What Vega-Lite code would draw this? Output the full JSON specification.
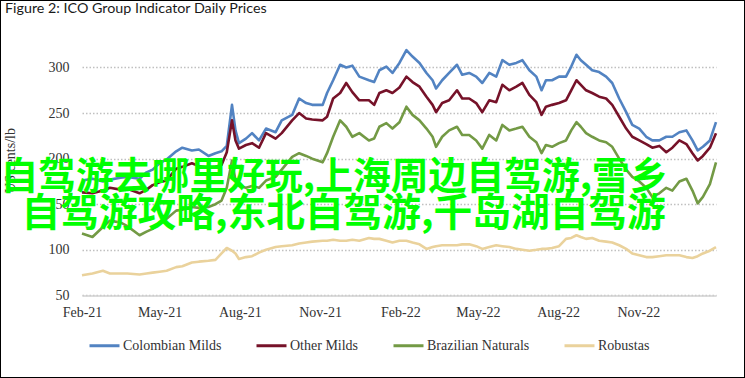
{
  "$schema": "https://vega.github.io/schema/vega-lite/v6.json",
  "width": 745,
  "height": 378,
  "autosize": "none",
  "padding": 0,
  "background": "white",
  "config": {
    "view": {"stroke": "black", "strokeWidth": 2},
    "font": "Liberation Sans Narrow"
  },
  "title": {
    "text": "Figure 2: ICO Group Indicator Daily Prices",
    "anchor": "start",
    "frame": "group",
    "font": "Lato",
    "fontSize": 14.3,
    "fontWeight": "normal",
    "color": "#1a1a1a",
    "dx": 5,
    "dy": 20
  },
  "data": {
    "values": [
      {"date": "2021-02-01", "Colombian Milds": 176, "Other Milds": 163, "Brazilian Naturals": 118, "Robustas": 72},
      {"date": "2021-02-13", "Colombian Milds": 178, "Other Milds": 162, "Brazilian Naturals": 114, "Robustas": 74},
      {"date": "2021-02-25", "Colombian Milds": 175, "Other Milds": 165, "Brazilian Naturals": 125, "Robustas": 77},
      {"date": "2021-03-05", "Colombian Milds": 177, "Other Milds": 168, "Brazilian Naturals": 132, "Robustas": 74},
      {"date": "2021-03-17", "Colombian Milds": 179, "Other Milds": 166, "Brazilian Naturals": 130, "Robustas": 74},
      {"date": "2021-03-25", "Colombian Milds": 180, "Other Milds": 167, "Brazilian Naturals": 126, "Robustas": 74},
      {"date": "2021-04-08", "Colombian Milds": 178, "Other Milds": 162, "Brazilian Naturals": 116, "Robustas": 73},
      {"date": "2021-04-16", "Colombian Milds": 185, "Other Milds": 166, "Brazilian Naturals": 120, "Robustas": 74},
      {"date": "2021-04-23", "Colombian Milds": 188, "Other Milds": 171, "Brazilian Naturals": 123, "Robustas": 75},
      {"date": "2021-05-01", "Colombian Milds": 195, "Other Milds": 174, "Brazilian Naturals": 130, "Robustas": 76},
      {"date": "2021-05-09", "Colombian Milds": 199, "Other Milds": 176, "Brazilian Naturals": 134, "Robustas": 77},
      {"date": "2021-05-20", "Colombian Milds": 208, "Other Milds": 189, "Brazilian Naturals": 143, "Robustas": 81},
      {"date": "2021-05-27", "Colombian Milds": 212, "Other Milds": 191, "Brazilian Naturals": 144, "Robustas": 82},
      {"date": "2021-06-07", "Colombian Milds": 209, "Other Milds": 195, "Brazilian Naturals": 147, "Robustas": 86},
      {"date": "2021-06-15", "Colombian Milds": 210, "Other Milds": 192, "Brazilian Naturals": 146, "Robustas": 87},
      {"date": "2021-06-26", "Colombian Milds": 203, "Other Milds": 190, "Brazilian Naturals": 147, "Robustas": 88},
      {"date": "2021-07-04", "Colombian Milds": 206, "Other Milds": 191, "Brazilian Naturals": 150, "Robustas": 89},
      {"date": "2021-07-11", "Colombian Milds": 208, "Other Milds": 193, "Brazilian Naturals": 154, "Robustas": 96},
      {"date": "2021-07-17", "Colombian Milds": 214, "Other Milds": 207, "Brazilian Naturals": 168, "Robustas": 102},
      {"date": "2021-07-23", "Colombian Milds": 259, "Other Milds": 242, "Brazilian Naturals": 198, "Robustas": 99},
      {"date": "2021-07-27", "Colombian Milds": 231, "Other Milds": 220, "Brazilian Naturals": 176, "Robustas": 96},
      {"date": "2021-07-31", "Colombian Milds": 217, "Other Milds": 211, "Brazilian Naturals": 170, "Robustas": 90},
      {"date": "2021-08-08", "Colombian Milds": 222, "Other Milds": 215, "Brazilian Naturals": 168, "Robustas": 92},
      {"date": "2021-08-15", "Colombian Milds": 228, "Other Milds": 217, "Brazilian Naturals": 170, "Robustas": 93},
      {"date": "2021-08-23", "Colombian Milds": 220, "Other Milds": 212, "Brazilian Naturals": 168, "Robustas": 97},
      {"date": "2021-08-31", "Colombian Milds": 233, "Other Milds": 228, "Brazilian Naturals": 176, "Robustas": 100},
      {"date": "2021-09-11", "Colombian Milds": 229, "Other Milds": 222, "Brazilian Naturals": 180, "Robustas": 103},
      {"date": "2021-09-18", "Colombian Milds": 242, "Other Milds": 228, "Brazilian Naturals": 188, "Robustas": 104},
      {"date": "2021-09-30", "Colombian Milds": 248, "Other Milds": 242, "Brazilian Naturals": 202, "Robustas": 105},
      {"date": "2021-10-08", "Colombian Milds": 266, "Other Milds": 250, "Brazilian Naturals": 206, "Robustas": 107},
      {"date": "2021-10-16", "Colombian Milds": 261, "Other Milds": 244, "Brazilian Naturals": 203, "Robustas": 108},
      {"date": "2021-10-23", "Colombian Milds": 259, "Other Milds": 243, "Brazilian Naturals": 200, "Robustas": 109},
      {"date": "2021-11-04", "Colombian Milds": 259, "Other Milds": 242, "Brazilian Naturals": 196, "Robustas": 110},
      {"date": "2021-11-09", "Colombian Milds": 272, "Other Milds": 246, "Brazilian Naturals": 206, "Robustas": 110},
      {"date": "2021-11-16", "Colombian Milds": 286, "Other Milds": 266, "Brazilian Naturals": 224, "Robustas": 111},
      {"date": "2021-11-24", "Colombian Milds": 303, "Other Milds": 272, "Brazilian Naturals": 242, "Robustas": 110},
      {"date": "2021-12-01", "Colombian Milds": 300, "Other Milds": 283, "Brazilian Naturals": 235, "Robustas": 110},
      {"date": "2021-12-08", "Colombian Milds": 302, "Other Milds": 273, "Brazilian Naturals": 224, "Robustas": 111},
      {"date": "2021-12-16", "Colombian Milds": 290, "Other Milds": 264, "Brazilian Naturals": 228, "Robustas": 110},
      {"date": "2021-12-27", "Colombian Milds": 286, "Other Milds": 264, "Brazilian Naturals": 220, "Robustas": 113},
      {"date": "2022-01-02", "Colombian Milds": 284, "Other Milds": 259, "Brazilian Naturals": 222, "Robustas": 112},
      {"date": "2022-01-08", "Colombian Milds": 297, "Other Milds": 272, "Brazilian Naturals": 235, "Robustas": 112},
      {"date": "2022-01-16", "Colombian Milds": 301, "Other Milds": 275, "Brazilian Naturals": 239, "Robustas": 110},
      {"date": "2022-01-23", "Colombian Milds": 294, "Other Milds": 272, "Brazilian Naturals": 233, "Robustas": 108},
      {"date": "2022-01-31", "Colombian Milds": 305, "Other Milds": 278, "Brazilian Naturals": 240, "Robustas": 110},
      {"date": "2022-02-08", "Colombian Milds": 319, "Other Milds": 290, "Brazilian Naturals": 257, "Robustas": 110},
      {"date": "2022-02-15", "Colombian Milds": 312, "Other Milds": 284, "Brazilian Naturals": 248, "Robustas": 108},
      {"date": "2022-02-23", "Colombian Milds": 305, "Other Milds": 279, "Brazilian Naturals": 242, "Robustas": 106},
      {"date": "2022-03-03", "Colombian Milds": 294, "Other Milds": 268, "Brazilian Naturals": 233, "Robustas": 101},
      {"date": "2022-03-10", "Colombian Milds": 286, "Other Milds": 259, "Brazilian Naturals": 224, "Robustas": 103},
      {"date": "2022-03-14", "Colombian Milds": 277, "Other Milds": 251, "Brazilian Naturals": 213, "Robustas": 104},
      {"date": "2022-03-21", "Colombian Milds": 286, "Other Milds": 261, "Brazilian Naturals": 224, "Robustas": 105},
      {"date": "2022-03-29", "Colombian Milds": 294, "Other Milds": 264, "Brazilian Naturals": 231, "Robustas": 105},
      {"date": "2022-04-07", "Colombian Milds": 303, "Other Milds": 275, "Brazilian Naturals": 235, "Robustas": 105},
      {"date": "2022-04-13", "Colombian Milds": 292, "Other Milds": 266, "Brazilian Naturals": 226, "Robustas": 106},
      {"date": "2022-04-21", "Colombian Milds": 294, "Other Milds": 266, "Brazilian Naturals": 226, "Robustas": 106},
      {"date": "2022-04-29", "Colombian Milds": 290, "Other Milds": 261, "Brazilian Naturals": 220, "Robustas": 104},
      {"date": "2022-05-06", "Colombian Milds": 283, "Other Milds": 251, "Brazilian Naturals": 211, "Robustas": 101},
      {"date": "2022-05-14", "Colombian Milds": 294, "Other Milds": 264, "Brazilian Naturals": 226, "Robustas": 103},
      {"date": "2022-05-22", "Colombian Milds": 290, "Other Milds": 262, "Brazilian Naturals": 220, "Robustas": 105},
      {"date": "2022-05-29", "Colombian Milds": 308, "Other Milds": 281, "Brazilian Naturals": 237, "Robustas": 104},
      {"date": "2022-06-06", "Colombian Milds": 303, "Other Milds": 275, "Brazilian Naturals": 231, "Robustas": 103},
      {"date": "2022-06-14", "Colombian Milds": 305, "Other Milds": 279, "Brazilian Naturals": 233, "Robustas": 101},
      {"date": "2022-06-21", "Colombian Milds": 308, "Other Milds": 283, "Brazilian Naturals": 235, "Robustas": 100},
      {"date": "2022-06-29", "Colombian Milds": 297, "Other Milds": 270, "Brazilian Naturals": 224, "Robustas": 99},
      {"date": "2022-07-07", "Colombian Milds": 290, "Other Milds": 262, "Brazilian Naturals": 218, "Robustas": 100},
      {"date": "2022-07-13", "Colombian Milds": 275, "Other Milds": 248, "Brazilian Naturals": 206, "Robustas": 101},
      {"date": "2022-07-18", "Colombian Milds": 286, "Other Milds": 257, "Brazilian Naturals": 215, "Robustas": 101},
      {"date": "2022-07-25", "Colombian Milds": 286, "Other Milds": 259, "Brazilian Naturals": 213, "Robustas": 102},
      {"date": "2022-08-02", "Colombian Milds": 290, "Other Milds": 261, "Brazilian Naturals": 217, "Robustas": 104},
      {"date": "2022-08-10", "Colombian Milds": 290, "Other Milds": 264, "Brazilian Naturals": 220, "Robustas": 112},
      {"date": "2022-08-16", "Colombian Milds": 301, "Other Milds": 275, "Brazilian Naturals": 231, "Robustas": 113},
      {"date": "2022-08-22", "Colombian Milds": 314, "Other Milds": 286, "Brazilian Naturals": 240, "Robustas": 116},
      {"date": "2022-08-27", "Colombian Milds": 308, "Other Milds": 281, "Brazilian Naturals": 235, "Robustas": 114},
      {"date": "2022-09-02", "Colombian Milds": 303, "Other Milds": 275, "Brazilian Naturals": 228, "Robustas": 112},
      {"date": "2022-09-09", "Colombian Milds": 297, "Other Milds": 272, "Brazilian Naturals": 224, "Robustas": 113},
      {"date": "2022-09-17", "Colombian Milds": 295, "Other Milds": 268, "Brazilian Naturals": 220, "Robustas": 110},
      {"date": "2022-09-25", "Colombian Milds": 290, "Other Milds": 266, "Brazilian Naturals": 218, "Robustas": 109},
      {"date": "2022-10-02", "Colombian Milds": 283, "Other Milds": 259, "Brazilian Naturals": 213, "Robustas": 108},
      {"date": "2022-10-10", "Colombian Milds": 266, "Other Milds": 246, "Brazilian Naturals": 200, "Robustas": 105},
      {"date": "2022-10-18", "Colombian Milds": 251, "Other Milds": 233, "Brazilian Naturals": 188, "Robustas": 101},
      {"date": "2022-10-25", "Colombian Milds": 237, "Other Milds": 224, "Brazilian Naturals": 180, "Robustas": 96},
      {"date": "2022-11-02", "Colombian Milds": 233, "Other Milds": 220, "Brazilian Naturals": 175, "Robustas": 94},
      {"date": "2022-11-10", "Colombian Milds": 224, "Other Milds": 216, "Brazilian Naturals": 168, "Robustas": 92},
      {"date": "2022-11-17", "Colombian Milds": 220, "Other Milds": 212, "Brazilian Naturals": 158, "Robustas": 92},
      {"date": "2022-11-25", "Colombian Milds": 220, "Other Milds": 214, "Brazilian Naturals": 162, "Robustas": 93},
      {"date": "2022-12-03", "Colombian Milds": 224, "Other Milds": 207, "Brazilian Naturals": 168, "Robustas": 94},
      {"date": "2022-12-10", "Colombian Milds": 224, "Other Milds": 212, "Brazilian Naturals": 165, "Robustas": 94},
      {"date": "2022-12-18", "Colombian Milds": 229, "Other Milds": 220, "Brazilian Naturals": 175, "Robustas": 94},
      {"date": "2022-12-26", "Colombian Milds": 231, "Other Milds": 216, "Brazilian Naturals": 178, "Robustas": 92},
      {"date": "2023-01-02", "Colombian Milds": 220, "Other Milds": 206, "Brazilian Naturals": 165, "Robustas": 91},
      {"date": "2023-01-08", "Colombian Milds": 209, "Other Milds": 198, "Brazilian Naturals": 151, "Robustas": 93},
      {"date": "2023-01-14", "Colombian Milds": 213, "Other Milds": 203, "Brazilian Naturals": 158, "Robustas": 96},
      {"date": "2023-01-22", "Colombian Milds": 220, "Other Milds": 212, "Brazilian Naturals": 172, "Robustas": 99},
      {"date": "2023-01-29", "Colombian Milds": 240, "Other Milds": 228, "Brazilian Naturals": 196, "Robustas": 103}
    ]
  },
  "layer": [
    {
      "transform": [
        {"fold": ["Colombian Milds", "Other Milds", "Brazilian Naturals", "Robustas"], "as": ["series", "price"]}
      ],
      "mark": {"type": "line", "strokeWidth": 2.6, "strokeJoin": "round"},
      "encoding": {
        "x": {
          "field": "date",
          "type": "temporal",
          "scale": {
            "type": "utc",
            "domain": [
              {"year": 2021, "month": 2, "date": 1, "utc": true},
              {"year": 2023, "month": 1, "date": 29, "utc": true}
            ],
            "range": [82, 716],
            "nice": false
          },
          "axis": {
            "title": null,
            "offset": -82.6,
            "values": [
              {"year": 2021, "month": 2, "date": 1, "utc": true},
              {"year": 2021, "month": 5, "date": 1, "utc": true},
              {"year": 2021, "month": 8, "date": 1, "utc": true},
              {"year": 2021, "month": 11, "date": 1, "utc": true},
              {"year": 2022, "month": 2, "date": 1, "utc": true},
              {"year": 2022, "month": 5, "date": 1, "utc": true},
              {"year": 2022, "month": 8, "date": 1, "utc": true},
              {"year": 2022, "month": 11, "date": 1, "utc": true}
            ],
            "format": "%b-%y",
            "grid": false,
            "ticks": false,
            "domainColor": "#d0d0d0",
            "domainWidth": 1.5,
            "labelFontSize": 14,
            "labelColor": "#333333",
            "labelPadding": 10,
            "labelFlush": false,
            "labelOverlap": false
          }
        },
        "y": {
          "field": "price",
          "type": "quantitative",
          "scale": {"domain": [50, 325], "range": [295.4, 44.7], "nice": false, "zero": false},
          "axis": {
            "title": "US cents/lb",
            "titleX": -72,
            "titleY": 160,
            "titleAngle": -90,
            "titleAlign": "center",
            "titleBaseline": "middle",
            "titleFontSize": 14,
            "titleFontWeight": "normal",
            "titleColor": "#333333",
            "offset": -82,
            "values": [50, 75, 100, 125, 150, 175, 200, 225, 250, 275, 300, 325],
            "domain": false,
            "ticks": false,
            "grid": true,
            "gridColor": "#c0c0c0",
            "gridDash": [1.5, 2],
            "gridWidth": 1.3,
            "labelFontSize": 14,
            "labelColor": "#333333",
            "labelPadding": 13
          }
        },
        "color": {
          "field": "series",
          "type": "nominal",
          "scale": {
            "domain": ["Colombian Milds", "Other Milds", "Brazilian Naturals", "Robustas"],
            "range": ["#5283C2", "#761229", "#739A45", "#EAD29C"]
          },
          "legend": {
            "title": null,
            "orient": "none",
            "legendX": 88,
            "legendY": 329,
            "direction": "horizontal",
            "symbolType": "stroke",
            "symbolSize": 900,
            "symbolStrokeWidth": 3,
            "labelOffset": 2,
            "columnPadding": 28,
            "labelFontSize": 14,
            "labelColor": "#333333"
          }
        }
      }
    },
    {
      "data": {"values": [
        {"label": "自驾游去哪里好玩,上海周边自驾游,雪乡", "date": "2021-11-17", "price": 178.6, "size": 37.8},
        {"label": "自驾游攻略,东北自驾游,千岛湖自驾游", "date": "2021-11-28", "price": 138.8, "size": 38.7}
      ]},
      "mark": {
        "type": "text",
        "font": "Noto Sans CJK SC",
        "fontWeight": "bold",
        "color": "#00FF00",
        "align": "center",
        "baseline": "middle"
      },
      "encoding": {
        "text": {"field": "label"},
        "x": {"field": "date", "type": "temporal"},
        "y": {"field": "price", "type": "quantitative"},
        "size": {"field": "size", "type": "quantitative", "scale": null, "legend": null}
      }
    }
  ]
}
